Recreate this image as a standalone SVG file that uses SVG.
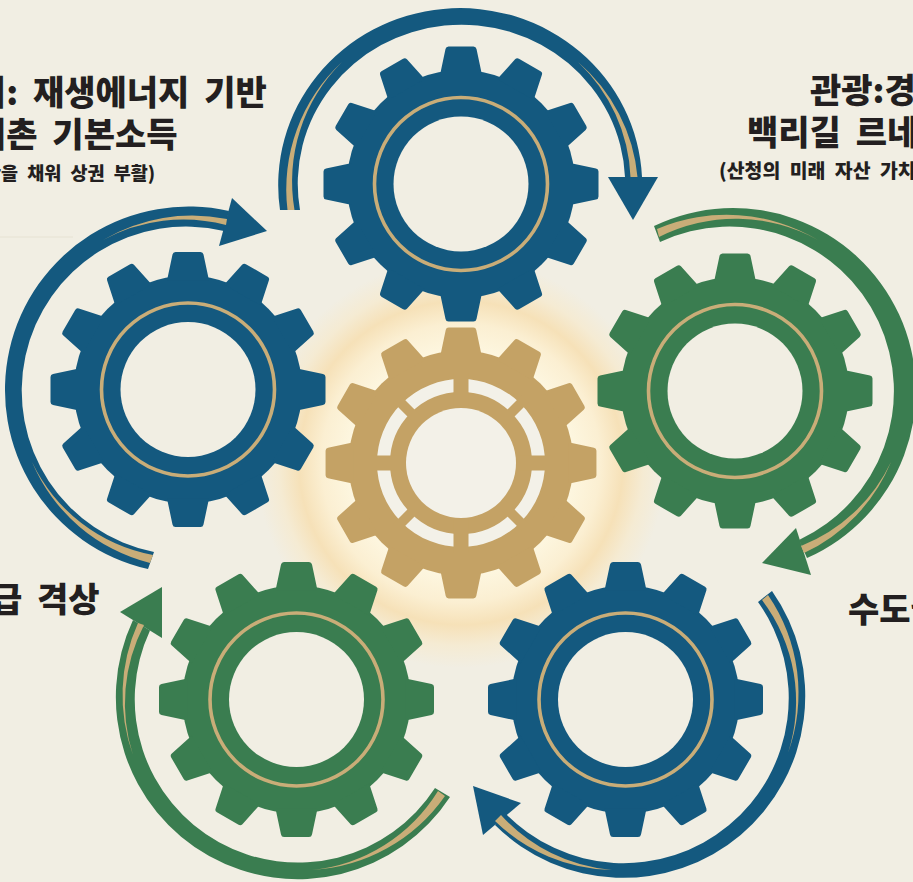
<svg xmlns="http://www.w3.org/2000/svg" xmlns:xlink="http://www.w3.org/1999/xlink" width="913" height="882" viewBox="0 0 913 882">
<style>
.blue{fill:#14597f}.green{fill:#3a7d50}.gold{fill:#c4a265}
.hole{fill:#f1eee3}
.ring{fill:none;stroke:#c9ad78;stroke-width:3.6}
.stripe{fill:#c9ad78}
text{font-family:"Noto Sans CJK KR","Noto Sans",sans-serif;font-weight:900;fill:#231f20}
.h{font-size:34px;word-spacing:7px}
.s{font-size:18.5px;font-weight:900;word-spacing:5px}
.s2{font-size:19.4px;font-weight:900;word-spacing:5px}
.slot{fill:none;stroke:#f3f1e8;stroke-width:13}
</style>
<defs>
<radialGradient id="glow" gradientUnits="userSpaceOnUse" cx="461" cy="463" r="205">
<stop offset="0.55" stop-color="#fdf6df"/>
<stop offset="0.68" stop-color="#fbefd2"/>
<stop offset="0.79" stop-color="#f6e1b8"/>
<stop offset="0.89" stop-color="#f5ebd3"/>
<stop offset="1" stop-color="#f1eee3"/>
</radialGradient>
<path id="tooth" d="M-21 -109L-15.5 -135Q-15 -137.5 -12.5 -137.5L12.5 -137.5Q15 -137.5 15.5 -135L21 -109Z"/>
<g id="gear">
<circle r="114"/>
<use xlink:href="#tooth"/>
<use xlink:href="#tooth" transform="rotate(30)"/>
<use xlink:href="#tooth" transform="rotate(60)"/>
<use xlink:href="#tooth" transform="rotate(90)"/>
<use xlink:href="#tooth" transform="rotate(120)"/>
<use xlink:href="#tooth" transform="rotate(150)"/>
<use xlink:href="#tooth" transform="rotate(180)"/>
<use xlink:href="#tooth" transform="rotate(210)"/>
<use xlink:href="#tooth" transform="rotate(240)"/>
<use xlink:href="#tooth" transform="rotate(270)"/>
<use xlink:href="#tooth" transform="rotate(300)"/>
<use xlink:href="#tooth" transform="rotate(330)"/>
</g>
<g id="inner">
<circle class="hole" r="67.5"/>
<circle class="ring" r="86.5"/>
</g>
</defs>
<rect width="913" height="882" fill="#f1eee3"/>
<circle cx="461" cy="463" r="205" fill="url(#glow)"/>
<path d="M0 237H73" stroke="#e6e2d3" stroke-width="1" fill="none"/>

<g id="connectors">
<g id="arrow-top" class="blue">
<path d="M280 210A182 177 0 1 1 642 177L625 177A163.7 159 0 1 0 300 210Z"/>
<polygon points="608,177 658,177 633,220"/>
<path class="stripe" d="M287.5 210A173 173 0 0 1 342 62A168 168 0 0 0 294.5 210Z"/>
<path class="stripe" d="M578 62A172 172 0 0 1 637.5 177L630.5 177A168 168 0 0 0 578 62Z"/>
</g>
<g id="arrow-left" class="blue">
<path d="M148 569A183.5 183.5 0 1 1 229 211L224 231A164.3 164.3 0 1 0 154 552Z"/>
<polygon points="232,198 267,231 219,246"/>
<path class="stripe" d="M103 240A174 174 0 0 1 227 219L226 225A168 168 0 0 0 103 240Z"/>
<path class="stripe" d="M153 555A168 168 0 0 1 32 462A174 174 0 0 0 150 563Z"/>
</g>
<g id="arrow-right" class="green">
<path d="M654 226A182.8 182.8 0 1 1 807 558L799 540A164.4 164.4 0 1 0 660 242Z"/>
<polygon points="796,528 762,563 811,575"/>
<path class="stripe" d="M657 229A178 178 0 0 1 818 240A170 170 0 0 0 659 237Z"/>
<path class="stripe" d="M891 462A174 174 0 0 1 804 553L801 546A168 168 0 0 0 891 462Z"/>
</g>
<g id="arrow-bottom-right" class="blue">
<path d="M772 591A182 182 0 0 1 495 825L504 812A165.2 165.2 0 0 0 758 602Z"/>
<polygon points="473,786 521,803 483,835"/>
<path class="stripe" d="M768 595A174 174 0 0 1 788 753A168 168 0 0 0 762 600Z"/>
<path class="stripe" d="M612 870A172 172 0 0 1 495 821L501 815A168 168 0 0 0 612 870Z"/>
</g>
<g id="arrow-bottom-left" class="green">
<path d="M450 797A182 182 0 0 1 133 620L150 630.5A163.2 163.2 0 0 0 435 788Z"/>
<polygon points="162,587 120,612 162,638"/>
<path class="stripe" d="M445 796A174 174 0 0 1 312 870A168 168 0 0 0 438 791Z"/>
<path class="stripe" d="M133 755A176 176 0 0 1 138 623L144 625A170 170 0 0 0 133 755Z"/>
</g>
</g>

<g id="gear-center" class="gold" transform="translate(461 463)">
<use xlink:href="#gear" transform="scale(.985)"/>
<circle class="slot" r="77.5"/>
<path d="M0 -90V-50M0 90V50M-90 0H-50M90 0H50" stroke="#c4a265" stroke-width="15" fill="none"/>
<path d="M-64 -64L-35 -35M64 -64L35 -35M-64 64L-35 35M64 64L35 35" stroke="#c4a265" stroke-width="10" fill="none"/>
<circle r="55" fill="#f3f1e8"/>
</g>
<g id="gear-top" class="blue" transform="translate(461 184)"><use xlink:href="#gear"/><use xlink:href="#inner"/></g>
<g id="gear-left" class="blue" transform="translate(188 389.5)"><use xlink:href="#gear"/><use xlink:href="#inner"/></g>
<g id="gear-right" class="green" transform="translate(735 391)"><use xlink:href="#gear"/><use xlink:href="#inner"/></g>
<g id="gear-bottom-left" class="green" transform="translate(296.5 699.5)"><use xlink:href="#gear"/><use xlink:href="#inner"/></g>
<g id="gear-bottom-right" class="blue" transform="translate(625.5 699.5)"><use xlink:href="#gear"/><use xlink:href="#inner"/></g>

<g id="labels">
<text class="h" x="-25" y="105">지: 재생에너지 기반</text>
<text class="h" x="-25" y="147">어촌 기본소득</text>
<text class="s" x="-16" y="180">간을 채워 상권 부활)</text>
<text class="h" x="810" y="103">관광:경</text>
<text class="h" x="747" y="145">백리길 르네</text>
<text class="s2" x="719" y="178">(산청의 미래 자산 가치</text>
<text class="h" x="848" y="622">수도권</text>
<text class="h" x="-9" y="612">급 격상</text>
</g>
</svg>
